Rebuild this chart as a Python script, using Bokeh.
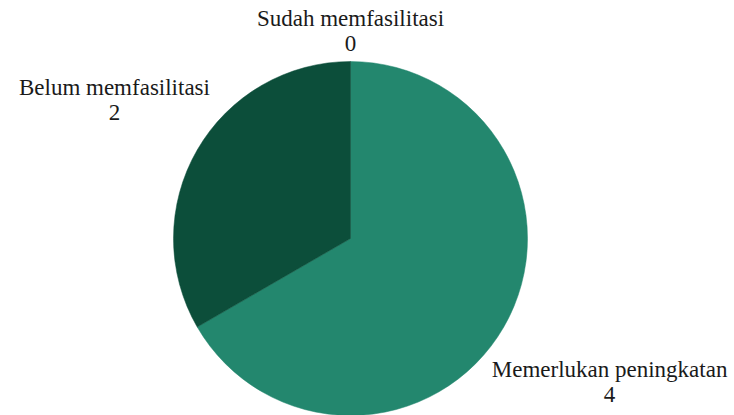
import math
from bokeh.plotting import figure
from bokeh.models import Range1d, ColumnDataSource
from bokeh.embed import file_html
from bokeh.resources import INLINE
from bokeh.core.properties import value

# ---- data ----
categories = ["Sudah memfasilitasi", "Memerlukan peningkatan", "Belum memfasilitasi"]
counts = [0, 4, 2]

# ---- style ----
colors = ["#1E7D64", "#23876E", "#0C4E3A"]
label_dist = [1.172, 1.69, 1.54]   # label distance from centre, in radii
label_lift = [0, 6, 2]             # extra upward nudge of each label, px
W, H = 734, 415
cx, cy = 350, 177      # pie centre (data units == screen pixels)
R = 177                # pie radius, px
font = "Liberation Serif"

total = float(sum(counts))
starts, ends, mids = [], [], []
a = math.pi / 2
for v in counts:
    sweep = 2 * math.pi * v / total
    starts.append(a)
    ends.append(a - sweep)
    mids.append(a - sweep / 2)
    a -= sweep

wedge_src = ColumnDataSource(dict(
    start=[s for s, v in zip(starts, counts) if v > 0],
    end=[e for e, v in zip(ends, counts) if v > 0],
    color=[c for c, v in zip(colors, counts) if v > 0],
))

lx = [cx + d * R * math.cos(m) for d, m in zip(label_dist, mids)]
ly = [cy + d * R * math.sin(m) + u for d, m, u in zip(label_dist, mids, label_lift)]
label_src = ColumnDataSource(dict(x=lx, y=ly, name=categories,
                                  val=[str(v) for v in counts]))

p = figure(width=W, height=H, x_range=Range1d(0, W), y_range=Range1d(0, H),
           output_backend="svg", toolbar_location=None, min_border=0,
           x_axis_type=None, y_axis_type=None)
p.grid.visible = False
p.outline_line_color = None
p.background_fill_color = "white"
p.border_fill_color = "white"

p.wedge(x=cx, y=cy, radius=R, radius_units="screen",
        start_angle="start", end_angle="end", direction="clock",
        fill_color="color", line_color="color", line_width=0.5,
        source=wedge_src)

p.text(x="x", y="y", text="name", source=label_src, y_offset=-12.5,
       text_align="center", text_baseline="alphabetic",
       text_font=value(font), text_font_size="23px", text_color="#1a1a1a")
p.text(x="x", y="y", text="val", source=label_src, y_offset=12.5,
       text_align="center", text_baseline="alphabetic",
       text_font=value(font), text_font_size="23px", text_color="#1a1a1a")

open("out.html", "w").write(file_html(p, INLINE))
